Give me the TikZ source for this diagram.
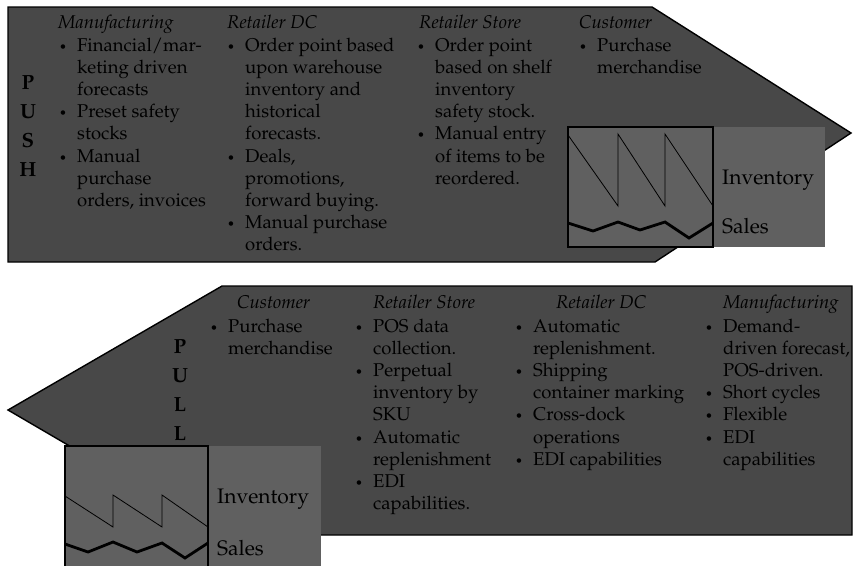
\documentclass[tikz,border=0pt]{standalone}
\usepackage[T1]{fontenc}
\usepackage{mathpazo}
\usepackage{xcolor}
\usepackage{tikz}
\definecolor{shapegray}{RGB}{72,72,72}
\definecolor{panelgray}{RGB}{96,96,96}
\newcommand{\blt}{\llap{\makebox[18pt][l]{\fontsize{13}{13}\selectfont\textbullet}}}
\newcommand{\stack}[1]{\begin{tabular}[t]{@{}l@{}}#1\end{tabular}}
\tikzstyle{flowshape} = [draw=black, line width=1.4pt, fill=shapegray]
\tikzstyle{panel} = [fill=panelgray]
\tikzstyle{chartbox} = [draw=black, line width=1.1pt, fill=panelgray]
\tikzstyle{stockline} = [draw=black, line width=0.8pt]
\tikzstyle{salesline} = [draw=black, line width=2.8pt]
\tikzstyle{head} = [anchor=base west, inner sep=0, font=\fontsize{18.5}{22.2}\selectfont\itshape]
\tikzstyle{list} = [anchor=base west, inner sep=0, font=\fontsize{18.5}{22.2}\selectfont]
\tikzstyle{tag} = [anchor=base, inner sep=0, font=\fontsize{20.5}{29.3}\selectfont\bfseries]
\tikzstyle{chartlabel} = [anchor=base west, inner sep=0, font=\fontsize{21}{21}\selectfont]

\begin{document}
\begin{tikzpicture}[x=1pt,y=-1pt]
\useasboundingbox (0,0) rectangle (853,565);
% push arrow
\path [flowshape] (8,7) -- (652,7) -- (851,133) -- (655,262) -- (8,262) -- cycle;
\node [tag] (push) at (28,89) {\begin{tabular}[t]{@{}c@{}}P\\U\\S\\H\end{tabular}};
\node [head] (push-mfg-head) at (58,28.5) {Manufacturing};
\node [list] (push-mfg) at (77,51) {\stack{\blt Financial/mar-\\keting driven\\forecasts\\\blt Preset safety\\stocks\\\blt Manual\\purchase\\orders, invoices}};
\node [head] (push-dc-head) at (227,28.5) {Retailer DC};
\node [list] (push-dc) at (245,51) {\stack{\blt Order point based\\upon warehouse\\inventory and\\historical\\forecasts.\\\blt Deals,\\promotions,\\forward buying.\\\blt Manual purchase\\orders.}};
\node [head] (push-store-head) at (419,28.5) {Retailer Store};
\node [list] (push-store) at (435,51) {\stack{\blt Order point\\based on shelf\\inventory\\safety stock.\\\blt Manual entry\\of items to be\\reordered.}};
\node [head] (push-cust-head) at (579,28.5) {Customer};
\node [list] (push-cust) at (597,51) {\stack{\blt Purchase\\merchandise}};
% push chart
\path [panel] (568,127) rectangle (825,247);
\path [chartbox] (568,127) rectangle (713,247);
\draw [stockline] (568,135) -- (618,206) -- (618,134) -- (665,206) -- (665,134) -- (713,206);
\draw [salesline] (568,223) -- (593,231) -- (618,222) -- (640,230) -- (665,222) -- (689,238) -- (713,223);
\node [chartlabel] (push-inv) at (722,184) {Inventory};
\node [chartlabel] (push-sales) at (722,233) {Sales};

% pull arrow
\path [flowshape] (8,410) -- (222,286) -- (852,286) -- (852,535) -- (222,535) -- cycle;
\node [tag] (pull) at (180,353) {\begin{tabular}[t]{@{}c@{}}P\\U\\L\\L\end{tabular}};
\node [head] (pull-cust-head) at (237,308) {Customer};
\node [list] (pull-cust) at (228,332) {\stack{\blt Purchase\\merchandise}};
\node [head] (pull-store-head) at (373,308) {Retailer Store};
\node [list] (pull-store) at (373,332) {\stack{\blt POS data\\collection.\\\blt Perpetual\\inventory by\\SKU\\\blt Automatic\\replenishment\\\blt EDI\\capabilities.}};
\node [head] (pull-dc-head) at (556,308) {Retailer DC};
\node [list] (pull-dc) at (533,332) {\stack{\blt Automatic\\replenishment.\\\blt Shipping\\container marking\\\blt Cross-dock\\operations\\\blt EDI capabilities}};
\node [head] (pull-mfg-head) at (723,308) {Manufacturing};
\node [list] (pull-mfg) at (723,332) {\stack{\blt Demand-\\driven forecast,\\POS-driven.\\\blt Short cycles\\\blt Flexible\\\blt EDI\\capabilities}};
% pull chart
\path [panel] (65,446) rectangle (321,568);
\path [chartbox] (65,446) rectangle (208,568);
\draw [stockline] (65,496) -- (113,527) -- (113,495) -- (162,527) -- (162,495) -- (208,527);
\draw [salesline] (65,544) -- (88,552) -- (113,542) -- (137,552) -- (162,543) -- (185,558) -- (208,543);
\node [chartlabel] (pull-inv) at (217,503) {Inventory};
\node [chartlabel] (pull-sales) at (217,555) {Sales};
\end{tikzpicture}
\end{document}
